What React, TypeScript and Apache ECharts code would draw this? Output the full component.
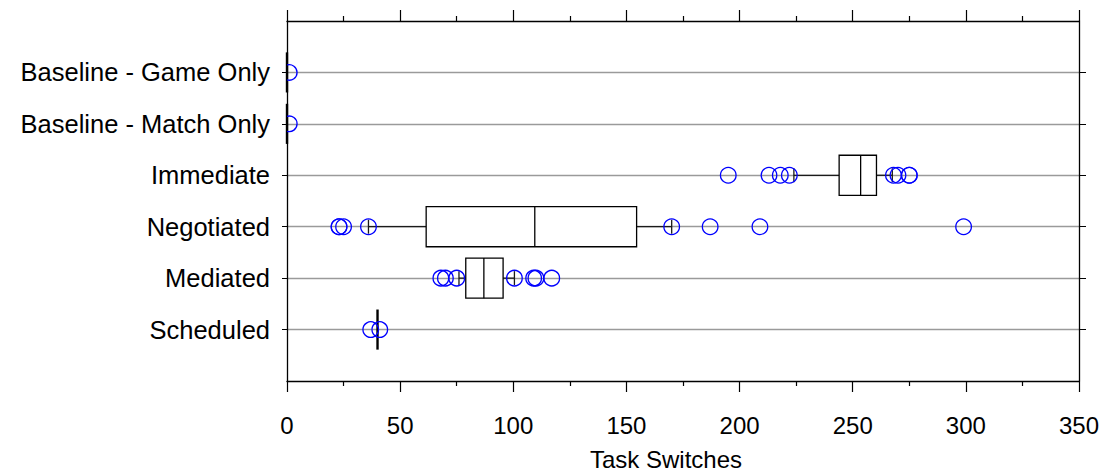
import React, { useEffect, useRef } from "react";
import * as echarts from "echarts";

// ---- Data ----
const categories = [
  "Baseline - Game Only",
  "Baseline - Match Only",
  "Immediate",
  "Negotiated",
  "Mediated",
  "Scheduled",
];
const whiskerLow = [0, 0, 224, 36, 76, 40];
const q1 = [0, 0, 244, 61.5, 79, 40];
const median = [0, 0, 253.5, 109.5, 87, 40];
const q3 = [0, 0, 260.5, 154.5, 95.5, 40];
const whiskerHigh = [0, 0, 267.5, 170, 100.5, 40];
const outliers: number[][] = [
  [1],
  [1],
  [195, 213, 218, 222, 268, 270, 275, 275],
  [23, 23, 25, 36, 170, 187, 209, 299],
  [68, 70, 75, 100.5, 109, 110, 117],
  [37, 41],
];
const xTicks = [0, 50, 100, 150, 200, 250, 300, 350];
const xTitle = "Task Switches";

const FONT = "'Liberation Sans', Arial, Helvetica, sans-serif";

export default function App() {
  const ref = useRef<HTMLDivElement>(null);

  useEffect(() => {
    if (!ref.current) return;
    const chart = echarts.init(ref.current, null, { renderer: "svg" });

    const positions = categories.map((_, i) => i + 1);
    const boxData = categories.map((_, i) => [
      positions[i],
      whiskerLow[i],
      q1[i],
      median[i],
      q3[i],
      whiskerHigh[i],
    ]);
    const pointData: number[][] = [];
    outliers.forEach((arr, i) => arr.forEach((v) => pointData.push([v, positions[i]])));

    const xAxisCommon = {
      type: "value",
      min: xTicks[0],
      max: xTicks[xTicks.length - 1],
      interval: xTicks[1] - xTicks[0],
      axisLine: { show: true, onZero: false, lineStyle: { color: "#000", width: 1.3 } },
      axisTick: { show: true, inside: false, length: 11, lineStyle: { color: "#000", width: 1.2 } },
      minorTick: { show: true, splitNumber: 2, length: 5, lineStyle: { color: "#000", width: 1.2 } },
      splitLine: { show: false },
      minorSplitLine: { show: false },
    };

    const yAxisCommon = {
      type: "value",
      min: 0,
      max: categories.length + 1,
      interval: 1,
      inverse: true,
      axisLine: { show: true, onZero: false, lineStyle: { color: "#000", width: 1.3 } },
    };

    chart.setOption({
      animation: false,
      backgroundColor: "#fff",
      grid: {
        left: 287,
        right: 29,
        top: 21,
        bottom: 92,
        containLabel: false,
        outerBoundsMode: "none",
      },
      xAxis: [
        {
          ...xAxisCommon,
          position: "bottom",
          axisLabel: {
            show: true,
            fontSize: 24,
            fontFamily: FONT,
            color: "#000",
            margin: 32,
          },
        },
        {
          ...xAxisCommon,
          position: "top",
          axisLabel: { show: false },
        },
      ],
      yAxis: [
        {
          ...yAxisCommon,
          position: "left",
          axisTick: {
            show: true,
            inside: false,
            length: 5,
            customValues: positions,
            lineStyle: { color: "#000", width: 1 },
          },
          axisLabel: {
            show: true,
            customValues: positions,
            fontSize: 25.5,
            fontFamily: FONT,
            color: "#000",
            margin: 17,
            formatter: (v: number) => categories[Math.round(v) - 1] ?? "",
          },
          splitLine: { show: true, lineStyle: { color: "#9a9a9a", width: 1.3 } },
        },
        {
          ...yAxisCommon,
          position: "right",
          axisTick: {
            show: true,
            inside: false,
            length: 7,
            customValues: positions,
            lineStyle: { color: "#000", width: 1 },
          },
          axisLabel: { show: false },
          splitLine: { show: false },
        },
      ],
      graphic: [
        {
          type: "text",
          x: 666,
          y: 459,
          style: {
            text: xTitle,
            font: `24px ${FONT}`,
            fill: "#000",
            textAlign: "center",
            textVerticalAlign: "middle",
          },
        },
      ],
      series: [
        {
          type: "custom",
          name: "box",
          xAxisIndex: 0,
          yAxisIndex: 0,
          clip: false,
          z: 3,
          encode: { x: [1, 2, 3, 4, 5], y: 0 },
          data: boxData,
          renderItem: (params: any, api: any) => {
            const y = api.value(0);
            const pLow = api.coord([api.value(1), y]);
            const pQ1 = api.coord([api.value(2), y]);
            const pMed = api.coord([api.value(3), y]);
            const pQ3 = api.coord([api.value(4), y]);
            const pHigh = api.coord([api.value(5), y]);
            const cy = pMed[1];
            const h = api.size([0, 1])[1] * 0.78;
            const top = cy - h / 2;
            const bot = cy + h / 2;
            const cap = 7;
            const degenerate = Math.abs(pQ3[0] - pQ1[0]) < 0.5;
            const wStyle = { stroke: "#1a1a1a", lineWidth: 1.3 };
            const bStyle = { stroke: "#000", lineWidth: 1.3 };
            const children: any[] = [];
            if (pQ1[0] - pLow[0] > 0.5) {
              children.push({ type: "line", shape: { x1: pLow[0], y1: cy, x2: pQ1[0], y2: cy }, style: wStyle });
              children.push({ type: "line", shape: { x1: pLow[0], y1: cy - cap, x2: pLow[0], y2: cy + cap }, style: wStyle });
            }
            if (pHigh[0] - pQ3[0] > 0.5) {
              children.push({ type: "line", shape: { x1: pQ3[0], y1: cy, x2: pHigh[0], y2: cy }, style: wStyle });
              children.push({ type: "line", shape: { x1: pHigh[0], y1: cy - cap, x2: pHigh[0], y2: cy + cap }, style: wStyle });
            }
            if (degenerate) {
              children.push({
                type: "rect",
                shape: { x: pMed[0] - 1.2, y: top, width: 2.4, height: h },
                style: { fill: "#000" },
              });
            } else {
              children.push({
                type: "rect",
                shape: { x: pQ1[0], y: top, width: pQ3[0] - pQ1[0], height: h },
                style: { fill: "#fff", stroke: "#000", lineWidth: 1.3 },
              });
              children.push({ type: "line", shape: { x1: pMed[0], y1: top, x2: pMed[0], y2: bot }, style: bStyle });
            }
            return { type: "group", children };
          },
        },
        {
          type: "custom",
          name: "outliers",
          xAxisIndex: 0,
          yAxisIndex: 0,
          clip: false,
          z: 4,
          encode: { x: 0, y: 1 },
          data: pointData,
          renderItem: (params: any, api: any) => {
            const p = api.coord([api.value(0), api.value(1)]);
            const cs = params.coordSys;
            const r = 7.8;
            const style = { fill: "none", stroke: "#0000ff", lineWidth: 1.3 };
            if (p[0] - r < cs.x) {
              const d = Math.max(-1, Math.min(1, (cs.x - p[0]) / r));
              const a = Math.acos(d);
              return {
                type: "arc",
                shape: { cx: p[0], cy: p[1], r, startAngle: -a, endAngle: a, clockwise: true },
                style,
              };
            }
            return {
              type: "circle",
              shape: { cx: p[0], cy: p[1], r },
              style,
            };
          },
        },
      ],
    });

    return () => chart.dispose();
  }, []);

  return (
    <div
      ref={ref}
      style={{ position: "fixed", left: 0, top: 0, width: 1108, height: 473, background: "#fff" }}
    />
  );
}
